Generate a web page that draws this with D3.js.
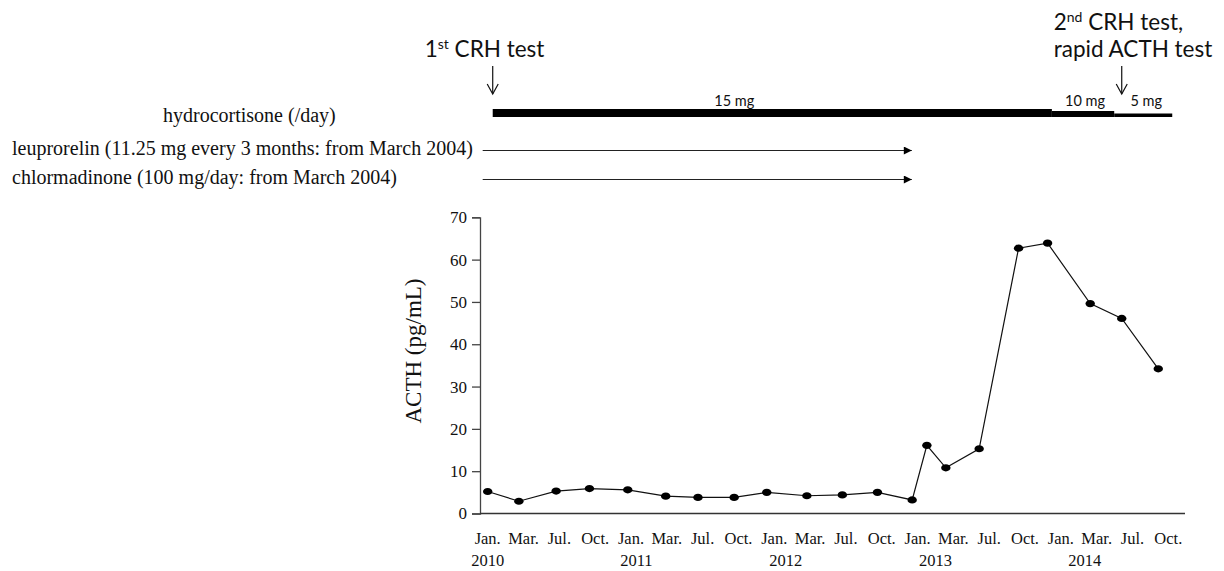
<!DOCTYPE html>
<html lang="en">
<head>
<meta charset="utf-8">
<title>ACTH</title>
<script src="https://cdn.jsdelivr.net/npm/d3@7"></script>
<style>
  body { margin: 0; background: #fff; }
  .serif { font-family: "Liberation Serif", "Times New Roman", serif; fill: #111; }
  .sans { font-family: Lato, "Open Sans", sans-serif; fill: #111; }
  .axis path, .axis line { stroke: #444; stroke-width: 1.3; }
  .axis text { font-family: "Liberation Serif", "Times New Roman", serif; fill: #111; }
</style>
</head>
<body>
<svg id="chart" width="1224" height="571"></svg>
<script>
// x values in units of the month labels (0 = first "Jan.")
var monthLabels = ["Jan.", "Mar.", "Jul.", "Oct.", "Jan.", "Mar.", "Jul.", "Oct.",
                   "Jan.", "Mar.", "Jul.", "Oct.", "Jan.", "Mar.", "Jul.", "Oct.",
                   "Jan.", "Mar.", "Jul.", "Oct."];
var yearLabels = ["2010", "2011", "2012", "2013", "2014"];
var yearAt = [0, 4.15, 8.32, 12.5, 16.67];

var visitAt = [0, 0.87, 1.91, 2.84, 3.91, 4.97, 5.87, 6.88, 7.79, 8.91, 9.90,
               10.88, 11.85, 12.26, 12.79, 13.72, 14.82, 15.63, 16.82, 17.70, 18.72];
var acth = [5.2, 2.9, 5.3, 5.9, 5.6, 4.1, 3.8, 3.8, 5.0, 4.2, 4.4,
            5.0, 3.2, 16.1, 10.8, 15.3, 62.7, 63.9, 49.6, 46.1, 34.2];
var yTicks = [0, 10, 20, 30, 40, 50, 60, 70];

// hydrocortisone doses on the timeline
var hydroDoses = ["15 mg", "10 mg", "5 mg"];
var hydroFrom = [0.14, 15.75, 17.49];
var hydroTo = [15.75, 17.49, 19.11];

var drugNames = ["leuprorelin (11.25 mg every 3 months: from March 2004)",
                 "chlormadinone (100 mg/day: from March 2004)"];
var drugFrom = [-0.14, -0.14];
var drugTo = [11.84, 11.84];

// test events: [number, superscript, rest] per line
var testAt = [0.14, 17.70];
var testLines = [
  [["1", "st", " CRH test"]],
  [["2", "nd", " CRH test,"], ["", "", "rapid ACTH test"]]
];

var svg = d3.select("#chart");

var x = d3.scaleLinear().domain([0, 19]).range([487.7, 1168.3]);
var y = d3.scaleLinear().domain([0, 70]).range([513.5, 217.3]);
var axisX0 = 480, axisX1 = 1185;

// y axis
svg.append("g")
  .attr("class", "axis")
  .attr("transform", "translate(" + axisX0 + ",0)")
  .call(d3.axisLeft(y).tickValues(yTicks).tickSize(8).tickPadding(5))
  .selectAll("text").style("font-size", "17px");

// x axis line
svg.append("line")
  .attr("x1", axisX0).attr("x2", axisX1)
  .attr("y1", y(0)).attr("y2", y(0))
  .attr("stroke", "#333").attr("stroke-width", 1.4);

svg.append("g").selectAll("text")
  .data(monthLabels)
  .enter().append("text")
    .attr("class", "serif")
    .attr("x", function(d, i) { return x(i); })
    .attr("y", 544)
    .attr("text-anchor", "middle")
    .style("font-size", "16.5px")
    .text(function(d) { return d; });

svg.append("g").selectAll("text")
  .data(yearLabels)
  .enter().append("text")
    .attr("class", "serif")
    .attr("x", function(d, i) { return x(yearAt[i]); })
    .attr("y", 566)
    .attr("text-anchor", "middle")
    .style("font-size", "16.5px")
    .text(function(d) { return d; });

// y axis title
svg.append("text")
  .attr("class", "serif")
  .attr("transform", "translate(421," + 351 + ") rotate(-90)")
  .attr("text-anchor", "middle")
  .style("font-size", "23px")
  .text("ACTH (pg/mL)");

// ACTH series
var line = d3.line()
  .x(function(d, i) { return x(visitAt[i]); })
  .y(function(d) { return y(d); });

svg.append("path")
  .datum(acth)
  .attr("d", line)
  .attr("fill", "none")
  .attr("stroke", "#111")
  .attr("stroke-width", 1.2);

svg.append("g").selectAll("ellipse")
  .data(acth)
  .enter().append("ellipse")
    .attr("cx", function(d, i) { return x(visitAt[i]); })
    .attr("cy", function(d) { return y(d); })
    .attr("rx", 4.7)
    .attr("ry", 3.6)
    .attr("fill", "#000");

// timeline: hydrocortisone bar
var barWidth = {"15 mg": 8, "10 mg": 6, "5 mg": 3.5};
var labelNudge = {"15 mg": -38, "10 mg": 2, "5 mg": 3};
var barBottom = 117;

svg.append("text")
  .attr("class", "serif")
  .attr("x", 163)
  .attr("y", 122)
  .style("font-size", "20px")
  .text("hydrocortisone (/day)");

hydroDoses.forEach(function(dose, i) {
  svg.append("rect")
    .attr("x", x(hydroFrom[i]))
    .attr("y", barBottom - barWidth[dose])
    .attr("width", x(hydroTo[i]) - x(hydroFrom[i]))
    .attr("height", barWidth[dose])
    .attr("fill", "#000");
  svg.append("text")
    .attr("class", "sans")
    .attr("x", (x(hydroFrom[i]) + x(hydroTo[i])) / 2 + labelNudge[dose])
    .attr("y", 106)
    .attr("text-anchor", "middle")
    .style("font-size", "14.5px")
    .text(dose);
});

// timeline: hormone therapy arrows
svg.append("defs").append("marker")
  .attr("id", "head")
  .attr("viewBox", "0 0 10 10")
  .attr("refX", 10).attr("refY", 5)
  .attr("markerUnits", "userSpaceOnUse")
  .attr("markerWidth", 9).attr("markerHeight", 8)
  .attr("orient", "auto")
  .append("path")
    .attr("d", "M0,0 L10,5 L0,10 Z")
    .attr("fill", "#000");

drugNames.forEach(function(name, i) {
  var ly = 150.5 + i * 29;
  svg.append("text")
    .attr("class", "serif")
    .attr("x", 12)
    .attr("y", ly + 4.5)
    .style("font-size", "20px")
    .text(name);
  svg.append("line")
    .attr("x1", x(drugFrom[i])).attr("x2", x(drugTo[i]))
    .attr("y1", ly).attr("y2", ly)
    .attr("stroke", "#222")
    .attr("stroke-width", 1.2)
    .attr("marker-end", "url(#head)");
});

// timeline: test events with open arrows
testAt.forEach(function(t, i) {
  var ax = x(t);
  svg.append("line")
    .attr("x1", ax).attr("x2", ax)
    .attr("y1", 66).attr("y2", 94)
    .attr("stroke", "#111").attr("stroke-width", 1.2);
  svg.append("path")
    .attr("d", "M" + (ax - 5.5) + ",84 L" + ax + ",94 L" + (ax + 5.5) + ",84")
    .attr("fill", "none")
    .attr("stroke", "#111").attr("stroke-width", 1.2);

  var lines = testLines[i];
  lines.forEach(function(parts, j) {
    var t = svg.append("text")
      .attr("class", "sans")
      .attr("x", ax - 68)
      .attr("y", 57 - (lines.length - 1 - j) * 27)
      .style("font-size", "22.5px");
    t.append("tspan").text(parts[0]);
    if (parts[1]) {
      t.append("tspan").attr("dy", -8).style("font-size", "14px").text(parts[1]);
      t.append("tspan").attr("dy", 8).text(parts[2]);
    } else {
      t.append("tspan").text(parts[2]);
    }
  });
});
</script>
</body>
</html>
